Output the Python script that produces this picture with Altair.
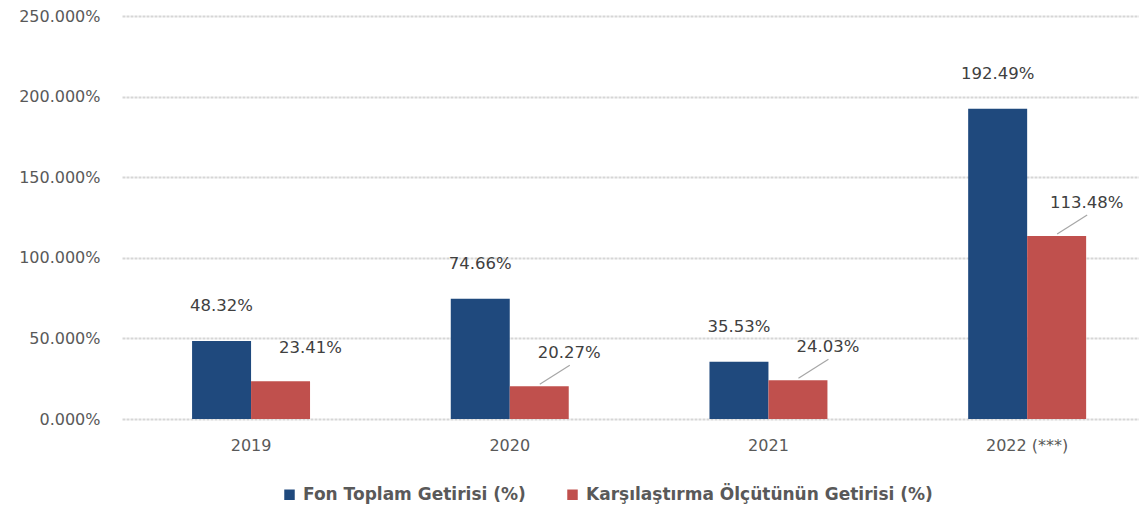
import altair as alt
import pandas as pd

years = ["2019", "2020", "2021", "2022 (***)"]
fon = [48.32, 74.66, 35.53, 192.49]
olcut = [23.41, 20.27, 24.03, 113.48]
series = ["Fon Toplam Getirisi (%)", "Karşılaştırma Ölçütünün Getirisi (%)"]
leader_years = ["2020", "2021", "2022 (***)"]
y_ticks = [0, 50, 100, 150, 200, 250]

rows = []
for y, v in zip(years, fon):
    rows.append({"year": y, "series": series[0], "value": v})
for y, v in zip(years, olcut):
    rows.append({"year": y, "series": series[1], "value": v})
df = pd.DataFrame(rows)
df["leader"] = [(r["series"] == series[1]) and (r["year"] in leader_years) for _, r in df.iterrows()]

FONT = "DejaVu Sans"
GRAY = "#595959"

x = alt.X("year:N", sort=years, title=None,
          scale=alt.Scale(paddingInner=0.544, paddingOuter=0.2376, align=0.57),
          axis=alt.Axis(labelAngle=0, labelFont=FONT, labelFontSize=16, labelColor=GRAY,
                        labelPadding=18, ticks=False, domain=False, grid=False))
y = alt.Y("value:Q", title=None,
          scale=alt.Scale(domain=[0, 250], nice=False),
          axis=alt.Axis(values=y_ticks, labelExpr="format(datum.value, '.3f') + '%'",
                        labelFont=FONT, labelFontSize=16, labelColor=GRAY, labelPadding=22,
                        ticks=False, domain=False, grid=True, gridColor="#d6d6d6",
                        gridWidth=2, gridDash=[3, 1]))
color = alt.Color("series:N", sort=series, title=None,
                  scale=alt.Scale(domain=series, range=["#1F497D", "#C0504D"]),
                  legend=alt.Legend(orient="none", legendX=159, legendY=470, direction="horizontal",
                                    symbolType="square", symbolSize=110, symbolStrokeWidth=0,
                                    labelFont=FONT, labelFontSize=17, labelFontWeight="bold",
                                    labelColor=GRAY, columnPadding=38, labelOffset=5,
                                    labelLimit=500, padding=0))

base = alt.Chart(df)

bars = base.mark_bar().encode(
    x=x, y=y, color=color,
    xOffset=alt.XOffset("series:N", sort=series),
)

lab_expr = "format(datum.value, '.2f') + '%'"

lbl_fon = base.transform_filter(alt.datum.series == series[0]).transform_calculate(
    lab=lab_expr
).mark_text(
    font=FONT, fontSize=16.5, color="#404040", dy=-35, baseline="middle"
).encode(
    x=alt.X("year:N", sort=years),
    xOffset=alt.XOffset("series:N", sort=series),
    y="value:Q",
    text="lab:N",
)

lbl_olc = base.transform_filter(alt.datum.series == series[1]).transform_calculate(
    lab=lab_expr
).mark_text(
    font=FONT, fontSize=16.5, color="#404040", dx=30, dy=-33, baseline="middle"
).encode(
    x=alt.X("year:N", sort=years),
    xOffset=alt.XOffset("series:N", sort=series),
    y="value:Q",
    text="lab:N",
)

leaders = base.transform_filter("datum.leader").mark_rule(
    color="#a6a6a6", strokeWidth=1.2, xOffset=30, x2Offset=60, yOffset=-2, y2Offset=-21
).encode(
    x=alt.X("year:N", sort=years),
    x2=alt.X2("year"),
    y="value:Q",
    y2=alt.Y2("value"),
)

chart = alt.layer(bars, leaders, lbl_fon, lbl_olc).properties(
    width=1017, height=403,
    autosize=alt.AutoSizeParams(type="none"),
    padding={"left": 114, "top": 8, "right": 0, "bottom": 85},
    background="white",
).configure_view(stroke=None)

chart.save("out.html", embed_options={"renderer": "svg", "actions": False})
